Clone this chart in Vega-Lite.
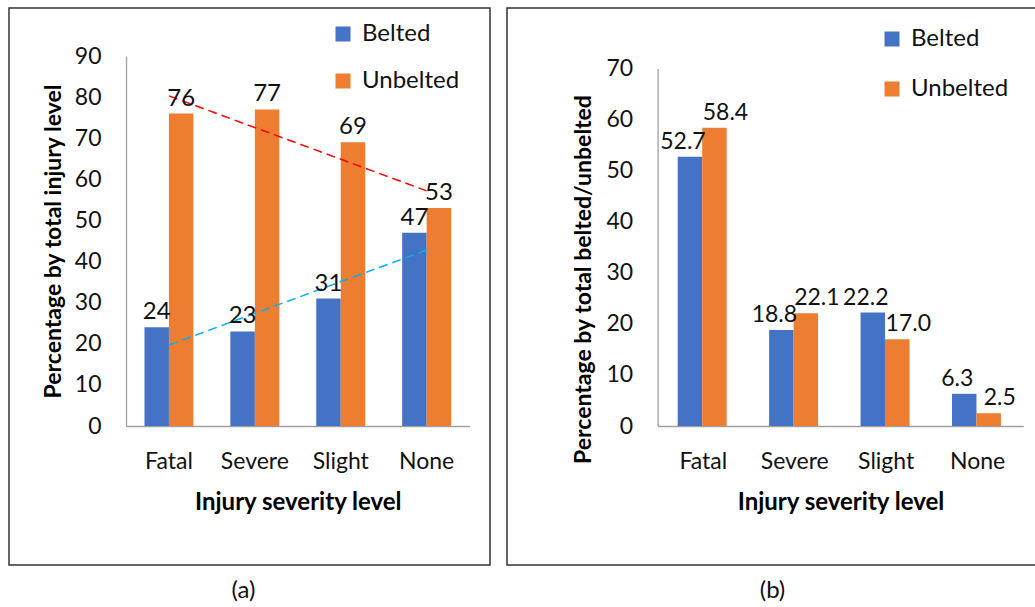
{
  "$schema": "https://vega.github.io/schema/vega-lite/v6.json",
  "padding": {"left": 8, "top": 7, "right": 0, "bottom": 0},
  "autosize": {"type": "pad"},
  "background": "white",
  "config": {
    "font": "Lato",
    "view": {"stroke": "#333333", "strokeWidth": 1.5},
    "axis": {
      "grid": false, "ticks": false, "tickSize": 0,
      "domainColor": "#A0A0A0", "domainWidth": 1.3,
      "labelFont": "Lato", "labelFontSize": 23, "labelColor": "#111111",
      "titleFont": "Lato", "titleFontWeight": "bold", "titleColor": "#000000"
    },
    "legend": {"labelFont": "Lato", "labelFontSize": 24, "labelColor": "#111111", "padding": 0},
    "title": {"font": "Lato", "fontSize": 24, "fontWeight": "normal", "color": "#111111", "anchor": "middle", "offset": 14, "baseline": "top"}
  },
  "datasets": {
    "a_bars": [
      {"level": "Fatal", "type": "Belted", "pct": 24},
      {"level": "Fatal", "type": "Unbelted", "pct": 76},
      {"level": "Severe", "type": "Belted", "pct": 23},
      {"level": "Severe", "type": "Unbelted", "pct": 77},
      {"level": "Slight", "type": "Belted", "pct": 31},
      {"level": "Slight", "type": "Unbelted", "pct": 69},
      {"level": "None", "type": "Belted", "pct": 47},
      {"level": "None", "type": "Unbelted", "pct": 53}
    ],
    "a_trend_unbelted": [
      {"level": "Fatal", "pct": 80.3},
      {"level": "None", "pct": 57.2}
    ],
    "a_trend_belted": [
      {"level": "Fatal", "pct": 19.7},
      {"level": "None", "pct": 42.8}
    ],
    "b_bars": [
      {"level": "Fatal", "type": "Belted", "pct": 52.7},
      {"level": "Fatal", "type": "Unbelted", "pct": 58.4},
      {"level": "Severe", "type": "Belted", "pct": 18.8},
      {"level": "Severe", "type": "Unbelted", "pct": 22.1},
      {"level": "Slight", "type": "Belted", "pct": 22.2},
      {"level": "Slight", "type": "Unbelted", "pct": 17.0},
      {"level": "None", "type": "Belted", "pct": 6.3},
      {"level": "None", "type": "Unbelted", "pct": 2.5}
    ]
  },
  "spacing": 15,
  "resolve": {"scale": {"color": "independent"}, "legend": {"color": "independent"}},
  "hconcat": [
    {
      "width": 481,
      "height": 557,
      "title": {"text": "(a)", "orient": "bottom", "dx": -6},
      "encoding": {
        "x": {
          "field": "level", "type": "nominal", "sort": null,
          "scale": {"domain": ["Fatal", "Severe", "Slight", "None"], "range": [117, 460.6], "paddingInner": 0.43, "paddingOuter": 0.215},
          "axis": {"title": "Injury severity level", "titleFontSize": 24, "labelAngle": 0, "offset": -139, "labelPadding": 42, "labelBaseline": "alphabetic", "titleX": 288.8, "titleY": 83, "titleBaseline": "alphabetic"}
        },
        "y": {
          "field": "pct", "type": "quantitative",
          "scale": {"domain": [0, 90], "range": [418, 48], "nice": false},
          "axis": {"title": "Percentage by total injury level", "titleFontSize": 23, "values": [0, 10, 20, 30, 40, 50, 60, 70, 80, 90], "offset": -117, "labelPadding": 25, "titleX": -72.7, "titleY": 233, "titleBaseline": "middle", "titleAngle": -90}
        }
      },
      "layer": [
        {
          "data": {"name": "a_bars"},
          "mark": {"type": "bar"},
          "encoding": {
            "xOffset": {"field": "type", "type": "nominal", "scale": {"paddingInner": 0, "paddingOuter": 0}},
            "color": {
              "field": "type", "type": "nominal",
              "scale": {"domain": ["Belted", "Unbelted"], "range": ["#4472C4", "#ED7D31"]},
              "legend": {"orient": "none", "legendX": 322, "legendY": 14, "title": null, "symbolType": "square", "symbolSize": 225, "symbolStrokeWidth": 0, "rowPadding": 23, "labelOffset": 7}
            }
          }
        },
        {
          "data": {"name": "a_trend_unbelted"},
          "mark": {"type": "line", "stroke": "#FF0000", "strokeDash": [9, 5], "strokeWidth": 1.5},
          "encoding": {}
        },
        {
          "data": {"name": "a_trend_belted"},
          "mark": {"type": "line", "stroke": "#00B0F0", "strokeDash": [9, 5], "strokeWidth": 1.5},
          "encoding": {}
        },
        {
          "data": {"name": "a_bars"},
          "mark": {"type": "text", "dy": -8, "baseline": "alphabetic", "fontSize": 24, "color": "#111111"},
          "encoding": {
            "xOffset": {"field": "type", "type": "nominal", "scale": {"paddingInner": 0, "paddingOuter": 0}},
            "text": {"field": "pct", "type": "quantitative", "format": "d"}
          }
        }
      ]
    },
    {
      "width": 531,
      "height": 557,
      "title": {"text": "(b)", "orient": "bottom"},
      "encoding": {
        "x": {
          "field": "level", "type": "nominal", "sort": null,
          "scale": {"domain": ["Fatal", "Severe", "Slight", "None"], "range": [150.6, 516.3], "paddingInner": 0.44, "paddingOuter": 0.22},
          "axis": {"title": "Injury severity level", "titleFontSize": 24, "labelAngle": 0, "offset": -139, "labelPadding": 42, "labelBaseline": "alphabetic", "titleX": 333.5, "titleY": 83, "titleBaseline": "alphabetic"}
        },
        "y": {
          "field": "pct", "type": "quantitative",
          "scale": {"domain": [0, 70], "range": [418, 60.5], "nice": false},
          "axis": {"title": "Percentage by total belted/unbelted", "titleFontSize": 23, "values": [0, 10, 20, 30, 40, 50, 60, 70], "offset": -150.6, "labelPadding": 25, "titleX": -74, "titleY": 271, "titleBaseline": "middle", "titleAngle": -90}
        }
      },
      "layer": [
        {
          "data": {"name": "b_bars"},
          "mark": {"type": "bar"},
          "encoding": {
            "xOffset": {"field": "type", "type": "nominal", "scale": {"paddingInner": 0, "paddingOuter": 0}},
            "color": {
              "field": "type", "type": "nominal",
              "scale": {"domain": ["Belted", "Unbelted"], "range": ["#4472C4", "#ED7D31"]},
              "legend": {"orient": "none", "legendX": 373, "legendY": 19, "title": null, "symbolType": "square", "symbolSize": 225, "symbolStrokeWidth": 0, "rowPadding": 26, "labelOffset": 7}
            }
          }
        },
        {
          "data": {"name": "b_bars"},
          "transform": [{"filter": "datum.type === 'Belted'"}],
          "mark": {"type": "text", "dy": -8, "dx": -7, "baseline": "alphabetic", "fontSize": 23, "color": "#111111"},
          "encoding": {
            "xOffset": {"field": "type", "type": "nominal", "scale": {"domain": ["Belted", "Unbelted"], "paddingInner": 0, "paddingOuter": 0}},
            "text": {"field": "pct", "type": "quantitative", "format": ".1f"}
          }
        },
        {
          "data": {"name": "b_bars"},
          "transform": [{"filter": "datum.type === 'Unbelted'"}],
          "mark": {"type": "text", "dy": -8, "dx": 11, "baseline": "alphabetic", "fontSize": 23, "color": "#111111"},
          "encoding": {
            "xOffset": {"field": "type", "type": "nominal", "scale": {"domain": ["Belted", "Unbelted"], "paddingInner": 0, "paddingOuter": 0}},
            "text": {"field": "pct", "type": "quantitative", "format": ".1f"}
          }
        }
      ]
    }
  ]
}
